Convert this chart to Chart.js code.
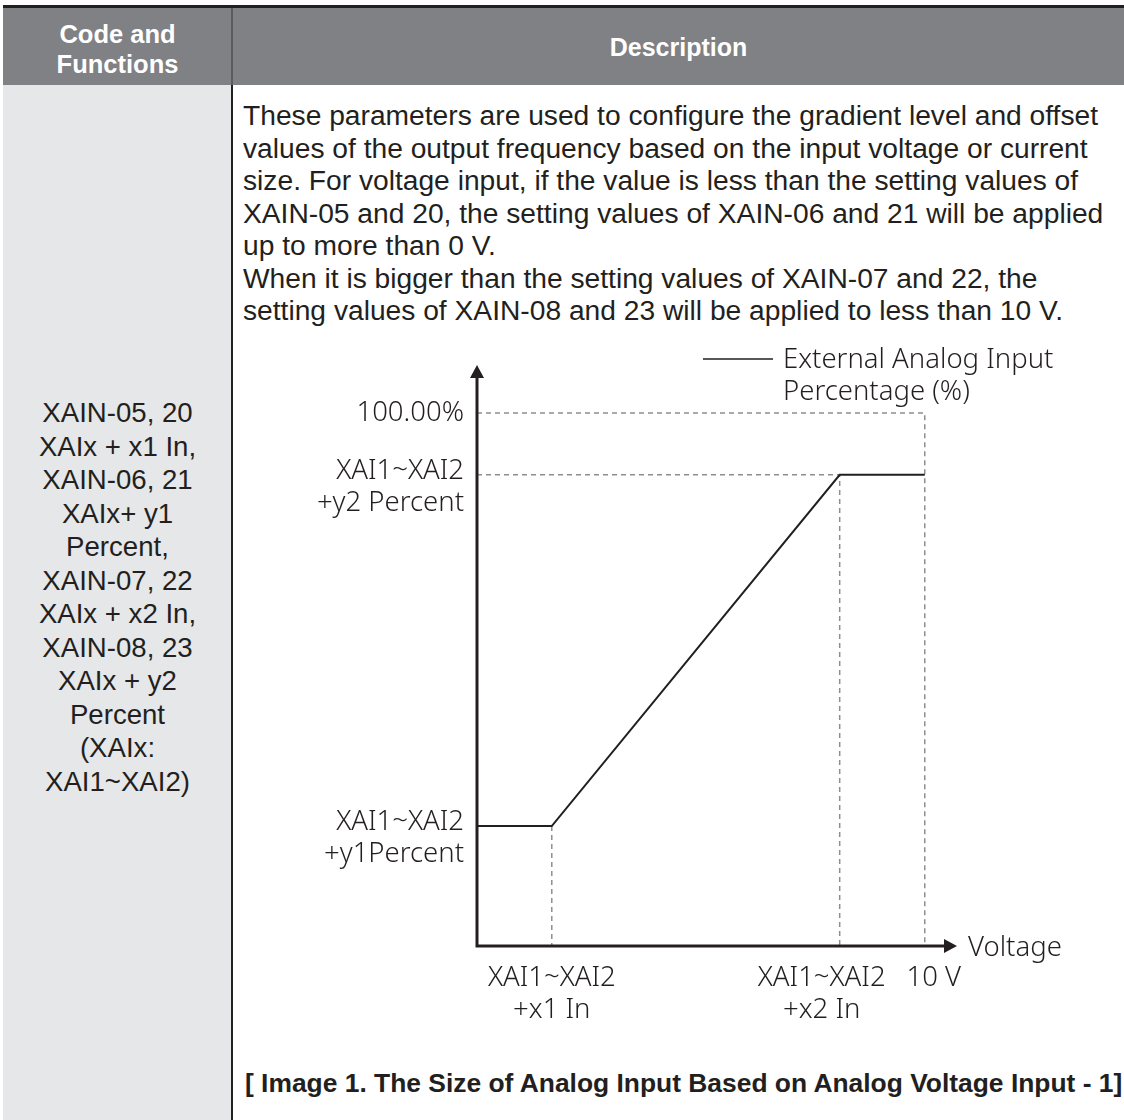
<!DOCTYPE html>
<html>
<head>
<meta charset="utf-8">
<script src="https://cdn.jsdelivr.net/npm/chart.js@4.4.1/dist/chart.umd.min.js"></script>
<style>
  html, body { margin: 0; padding: 0; background: #fff; }
  body { width: 1124px; height: 1120px; position: relative; overflow: hidden;
         font-family: "Liberation Sans", Arial, sans-serif; color: #231f20; }
  .abs { position: absolute; white-space: nowrap; }
  #topRule { left: 3px; top: 5px; width: 1121px; height: 3px; background: #231f20; }
  #head { left: 3px; top: 8px; width: 1121px; height: 77px; background: #808184; }
  #leftCol { left: 3px; top: 85px; width: 229px; height: 1035px; background: #e6e7e8; }
  #sepHead { left: 231px; top: 8px; width: 2px; height: 77px; background: #5c5c5e; }
  #sep { left: 231px; top: 85px; width: 2px; height: 1035px; background: #231f20; }
  #hCode { left: 3px; width: 229px; top: 19px; text-align: center; font-weight: bold;
           font-size: 25.5px; line-height: 30px; color: #fff; }
  #hDesc { left: 233px; width: 891px; top: 32px; text-align: center; font-weight: bold;
           font-size: 25px; line-height: 30px; color: #fff; }
  #codes { left: 3px; width: 229px; top: 396px; text-align: center; font-size: 27.6px; line-height: 33.5px; }
  #desc { left: 243px; top: 99px; font-size: 28.2px; line-height: 32.5px; }
  #caption { left: 245px; top: 1068px; font-weight: bold; font-size: 26.4px; line-height: 30px; }
  #chartBox { left: 240px; top: 330px; width: 884px; height: 720px; }
</style>
</head>
<body>
<div class="abs" id="topRule"></div>
<div class="abs" id="head"></div>
<div class="abs" id="leftCol"></div>
<div class="abs" id="sepHead"></div>
<div class="abs" id="sep"></div>
<div class="abs" id="hCode">Code and<br>Functions</div>
<div class="abs" id="hDesc">Description</div>
<div class="abs" id="codes">XAIN-05, 20<br>XAIx + x1 In,<br>XAIN-06, 21<br>XAIx+ y1<br>Percent,<br>XAIN-07, 22<br>XAIx + x2 In,<br>XAIN-08, 23<br>XAIx + y2<br>Percent<br>(XAIx:<br>XAI1~XAI2)</div>
<div class="abs" id="desc">These parameters are used to configure the gradient level and offset<br>values of the output frequency based on the input voltage or current<br>size. For voltage input, if the value is less than the setting values of<br>XAIN-05 and 20, the setting values of XAIN-06 and 21 will be applied<br>up to more than 0 V.<br>When it is bigger than the setting values of XAIN-07 and 22, the<br>setting values of XAIN-08 and 23 will be applied to less than 10 V.</div>
<div class="abs" id="chartBox"><canvas id="chart" width="884" height="720"></canvas></div>
<div class="abs" id="caption">[ Image 1. The Size of Analog Input Based on Analog Voltage Input - 1]</div>

<script>
// Analog input curve: voltage (V) against input percentage (%)
const inputVoltage = [0, 1.67, 8.1, 10];
const inputPercent = [22.5, 22.5, 88.4, 88.4];
const seriesLabel = ['External Analog Input', 'Percentage (%)'];

// Axis marks
const yTickValues = [100, 88.4, 22.5];
const yTickLabels = [['100.00%'], ['XAI1~XAI2', '+y2 Percent'], ['XAI1~XAI2', '+y1Percent']];
const xTickValues = [1.67, 8.1, 10];
const xTickLabels = [['XAI1~XAI2', '+x1 In'], ['XAI1~XAI2', '+x2 In'], ['10 V']];
const xAxisTitle = 'Voltage';
const xAxisMax = 10.72;
const yAxisMax = 109;
const fullScalePercent = 100;

const labelFont = '300 27.5px "Noto Sans", "Open Sans", sans-serif';
const ink = '#231f20';
const guideColor = '#8e8e8e';

// Dashed reference lines built from the curve's break points
const x1 = inputVoltage[1], x2 = inputVoltage[2], xEnd = inputVoltage[3];
const y1 = inputPercent[1], y2 = inputPercent[2];
const guides = [
  [{ x: 0, y: fullScalePercent }, { x: xEnd, y: fullScalePercent }, { x: xEnd, y: 0 }],
  [{ x: 0, y: y2 }, { x: x2, y: y2 }, { x: x2, y: 0 }],
  [{ x: x1, y: y1 }, { x: x1, y: 0 }]
];

const guideDatasets = guides.map(pts => ({
  data: pts, showLine: true, borderColor: guideColor, borderWidth: 1.5,
  borderDash: [5, 4], pointRadius: 0, clip: false, order: 2
}));

// Tick label placement tweaks (pixels)
const xLabelShift = [0, -18, 9];
const yLabelShift = [0, -4, -4];

const axesPlugin = {
  id: 'arrowAxes',
  afterDatasetsDraw(chart) {
    const { ctx, scales: { x, y } } = chart;
    const x0 = x.getPixelForValue(0), xR = x.getPixelForValue(xAxisMax);
    const y0 = y.getPixelForValue(0), yT = y.getPixelForValue(yAxisMax);
    ctx.save();
    ctx.strokeStyle = ink; ctx.fillStyle = ink; ctx.lineWidth = 3; ctx.lineCap = 'butt';
    // axis lines
    ctx.beginPath();
    ctx.moveTo(x0, y0 + 1.5); ctx.lineTo(x0, yT + 12);
    ctx.moveTo(x0 - 1.5, y0); ctx.lineTo(xR - 12, y0);
    ctx.stroke();
    // arrow heads
    ctx.beginPath();
    ctx.moveTo(x0, yT); ctx.lineTo(x0 - 7, yT + 13); ctx.lineTo(x0 + 7, yT + 13); ctx.closePath();
    ctx.moveTo(xR, y0); ctx.lineTo(xR - 13, y0 - 7); ctx.lineTo(xR - 13, y0 + 7); ctx.closePath();
    ctx.fill();

    ctx.font = labelFont;
    ctx.textBaseline = 'middle';
    // y tick labels
    ctx.textAlign = 'right';
    yTickValues.forEach((v, i) => {
      const py = y.getPixelForValue(v) + yLabelShift[i];
      yTickLabels[i].forEach((line, j) => ctx.fillText(line, x0 - 13, py + j * 32));
    });
    // x tick labels
    ctx.textAlign = 'center';
    xTickValues.forEach((v, i) => {
      const px = x.getPixelForValue(v) + xLabelShift[i];
      xTickLabels[i].forEach((line, j) => ctx.fillText(line, px, y0 + 32 + j * 32));
    });
    // axis title
    ctx.textAlign = 'left';
    ctx.fillText(xAxisTitle, xR + 11, y0 + 2);

    // legend
    const lx = chart.chartArea.right - 254, ly = chart.chartArea.top - 6;
    ctx.lineWidth = 1.5;
    ctx.beginPath(); ctx.moveTo(lx, ly); ctx.lineTo(lx + 70, ly); ctx.stroke();
    seriesLabel.forEach((line, j) => ctx.fillText(line, lx + 80, ly + 1 + j * 32));
    ctx.restore();
  }
};

new Chart(document.getElementById('chart'), {
  type: 'scatter',
  data: {
    datasets: [
      {
        label: seriesLabel.join(' '),
        data: inputVoltage.map((v, i) => ({ x: v, y: inputPercent[i] })),
        showLine: true, borderColor: ink, borderWidth: 2, pointRadius: 0,
        clip: false, order: 1, borderJoinStyle: 'miter'
      },
      ...guideDatasets
    ]
  },
  options: {
    responsive: false,
    devicePixelRatio: 1,
    animation: false,
    layout: { padding: { left: 237, right: 167, top: 35, bottom: 104 } },
    plugins: { legend: { display: false }, tooltip: { enabled: false } },
    scales: {
      x: { type: 'linear', display: false, min: 0, max: xAxisMax },
      y: { type: 'linear', display: false, min: 0, max: yAxisMax }
    }
  },
  plugins: [axesPlugin]
});
</script>
</body>
</html>
